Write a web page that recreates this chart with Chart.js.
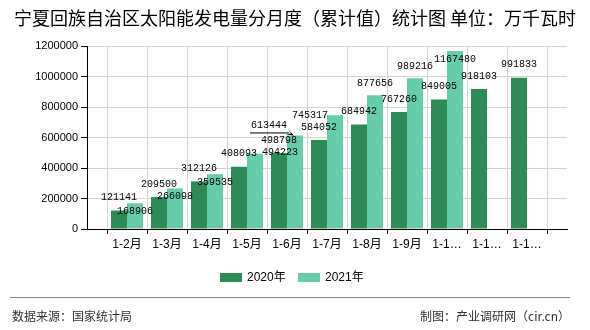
<!DOCTYPE html>
<html>
<head>
<meta charset="utf-8">
<script src="https://cdn.jsdelivr.net/npm/chart.js@4/dist/chart.umd.min.js"></script>
<style>
  body { margin: 0; background: #fff; }
  #wrap { width: 590px; height: 330px; position: relative; }
</style>
</head>
<body>
<div id="wrap"><canvas id="chart"></canvas></div>
<script>
const titleText = "宁夏回族自治区太阳能发电量分月度（累计值）统计图 单位：万千瓦时";
const months = ["1-2月", "1-3月", "1-4月", "1-5月", "1-6月", "1-7月", "1-8月", "1-9月", "1-10月", "1-11月", "1-12月"];
const values2020 = [121141, 209500, 312126, 408093, 498798, 584052, 684942, 767260, 849005, 918103, 991833];
const values2021 = [168906, 266098, 359535, 494223, 613444, 745317, 877656, 989216, 1167480, null, null];
const seriesNames = ["2020年", "2021年"];
const yTicks = [0, 200000, 400000, 600000, 800000, 1000000, 1200000];
const sourceText = "数据来源：国家统计局";
const makerText = "制图：产业调研网（cir.cn）";

const CJK = "'Liberation Sans', 'Noto Sans CJK SC', sans-serif";

// empty slot at both ends so the categories sit half a step in from the axes
const labels = [""].concat(months, [""]);
const pad = arr => [null].concat(arr, [null]);

// where the value labels go, relative to bar centre / bar top (reference chart staggers them)
const labelShift = [
  months.map(() => [0, -13]),
  [[0, 8], [0, 8], [0, 8], [25, -1], [-26, -10], [-25, 0], [0, -12], [0, -12], [0, 8], [0, 0], [0, 0]]
];

const extras = {
  id: "extras",
  afterDatasetsDraw(chart) {
    const ctx = chart.ctx;
    ctx.save();
    ctx.font = "10px 'Liberation Mono', monospace";
    ctx.fillStyle = "#000";
    ctx.textAlign = "center";
    ctx.textBaseline = "middle";
    chart.data.datasets.forEach((ds, d) => {
      const meta = chart.getDatasetMeta(d);
      meta.data.forEach((bar, i) => {
        const v = ds.data[i];
        if (v == null) return;
        const [dx, dy] = labelShift[d][i - 1];
        const x = bar.x + dx, y = bar.y + dy;
        ctx.fillText(String(v), x, y);
        if (d === 1 && i === 5) {
          // leader line for the crowded 1-6月 label
          ctx.strokeStyle = "#000";
          ctx.lineWidth = 1;
          ctx.beginPath();
          ctx.moveTo(x - 19, y + 7.5);
          ctx.lineTo(bar.x - 6, y + 7.5);
          ctx.stroke();
          ctx.beginPath();
          ctx.moveTo(bar.x - 1, bar.y);
          ctx.lineTo(bar.x - 7, bar.y - 6);
          ctx.lineTo(bar.x - 4, bar.y - 2);
          ctx.lineTo(bar.x - 9, bar.y - 1);
          ctx.closePath();
          ctx.fill();
        }
      });
    });
    ctx.restore();
  },
  afterDraw(chart) {
    const ctx = chart.ctx;
    ctx.save();
    // title
    ctx.fillStyle = "#000";
    ctx.font = "18px 'Noto Sans CJK SC', sans-serif";
    ctx.textAlign = "center";
    ctx.textBaseline = "middle";
    ctx.fillText(titleText, 295, 18);
    // legend
    ctx.font = "12px " + CJK;
    ctx.textAlign = "left";
    const legendX = [220, 298];
    chart.data.datasets.forEach((ds, d) => {
      ctx.fillStyle = ds.backgroundColor;
      ctx.fillRect(legendX[d], 273, 22, 9);
      ctx.fillStyle = "#000";
      ctx.fillText(ds.label, legendX[d] + 27, 278);
    });
    // footer
    ctx.strokeStyle = "#888";
    ctx.lineWidth = 1;
    ctx.beginPath();
    ctx.moveTo(10, 297.5);
    ctx.lineTo(570, 297.5);
    ctx.stroke();
    ctx.fillStyle = "#333";
    ctx.font = "12px 'Noto Sans CJK SC', sans-serif";
    ctx.fillText(sourceText, 12, 316);
    ctx.textAlign = "right";
    ctx.fillText(makerText, 570, 316);
    ctx.restore();
  }
};

new Chart(document.getElementById("chart"), {
  type: "bar",
  data: {
    labels: labels,
    datasets: [
      { label: seriesNames[0], data: pad(values2020), backgroundColor: "#2e8b57" },
      { label: seriesNames[1], data: pad(values2021), backgroundColor: "#66cdaa" }
    ]
  },
  options: {
    responsive: true,
    maintainAspectRatio: false,
    animation: false,
    layout: { padding: { top: 46, right: 23, left: 0, bottom: 0 } },
    datasets: { bar: { categoryPercentage: 0.8, barPercentage: 1 } },
    plugins: {
      legend: { display: false },
      title: { display: false },
      tooltip: { enabled: false }
    },
    scales: {
      x: {
        offset: false,
        afterFit: s => { s.height = 101; },
        grid: { color: "#d3d3d3", tickColor: "#000", tickLength: 5 },
        border: { color: "#000" },
        ticks: {
          autoSkip: false,
          maxRotation: 0,
          padding: 3,
          color: "#000",
          font: { family: CJK, size: 12 },
          callback: function (val, i) {
            const t = labels[i];
            return t.length > 4 ? t.slice(0, 3) + "…" : t;
          }
        }
      },
      y: {
        min: 0,
        max: 1200000,
        afterFit: s => { s.width = 87; },
        afterBuildTicks: s => { s.ticks = yTicks.map(v => ({ value: v })); },
        grid: { color: "#d3d3d3", tickColor: "#000", tickLength: 6 },
        border: { color: "#000" },
        ticks: {
          padding: 3,
          color: "#000",
          font: { family: "'Liberation Sans', sans-serif", size: 11 },
          callback: v => String(v)
        }
      }
    }
  },
  plugins: [extras]
});
</script>
</body>
</html>
